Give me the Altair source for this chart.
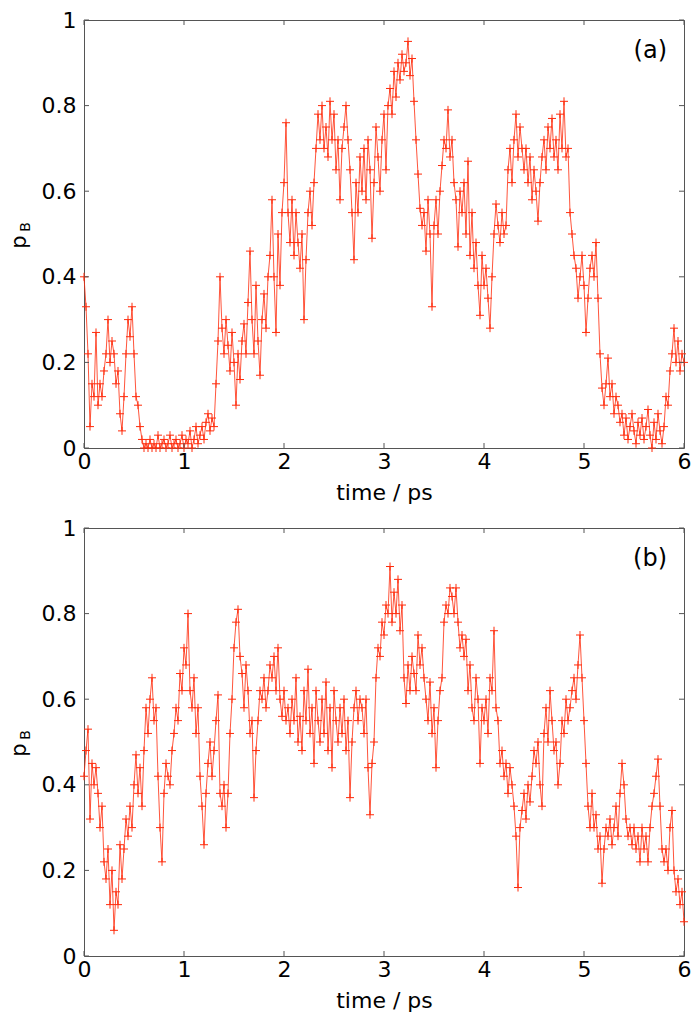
import altair as alt
import pandas as pd

time_ps = [round(i * 0.02, 2) for i in range(301)]

pb_a = [
    0.40, 0.33, 0.22, 0.05, 0.15,  0.12, 0.27, 0.10, 0.15, 0.12,
    0.18, 0.22, 0.30, 0.20, 0.25,  0.22, 0.15, 0.18, 0.08, 0.04,
    0.12, 0.22, 0.30, 0.26, 0.33,  0.22, 0.12, 0.10, 0.05, 0.02,
    0.00, 0.01, 0.00, 0.02, 0.00,  0.01, 0.00, 0.03, 0.00, 0.01,
    0.02, 0.00, 0.01, 0.03, 0.00,  0.01, 0.02, 0.00, 0.01, 0.03,
    0.00, 0.02, 0.01, 0.04, 0.00,  0.02, 0.05, 0.01, 0.03, 0.05,
    0.02, 0.06, 0.08, 0.04, 0.07,  0.05, 0.15, 0.25, 0.40, 0.28,
    0.22, 0.30, 0.24, 0.18, 0.27,  0.20, 0.10, 0.22, 0.16, 0.25,
    0.29, 0.22, 0.34, 0.46, 0.30,  0.22, 0.38, 0.25, 0.17, 0.30,
    0.36, 0.28, 0.40, 0.45, 0.58,  0.40, 0.27, 0.50, 0.38, 0.55,
    0.62, 0.76, 0.55, 0.48, 0.58,  0.45, 0.55, 0.48, 0.42, 0.50,
    0.30, 0.44, 0.55, 0.60, 0.52,  0.62, 0.70, 0.78, 0.72, 0.80,
    0.70, 0.75, 0.68, 0.81, 0.72,  0.78, 0.65, 0.72, 0.58, 0.70,
    0.75, 0.80, 0.72, 0.65, 0.55,  0.44, 0.62, 0.55, 0.68, 0.60,
    0.70, 0.58, 0.72, 0.65, 0.49,  0.62, 0.75, 0.68, 0.60, 0.72,
    0.78, 0.65, 0.80, 0.84, 0.78,  0.88, 0.82, 0.90, 0.86, 0.92,
    0.88, 0.90, 0.95, 0.87, 0.91,  0.81, 0.72, 0.64, 0.56, 0.52,
    0.55, 0.46, 0.58, 0.50, 0.33,  0.52, 0.58, 0.50, 0.60, 0.66,
    0.72, 0.70, 0.79, 0.68, 0.72,  0.62, 0.58, 0.47, 0.60, 0.55,
    0.62, 0.50, 0.67, 0.45, 0.55,  0.42, 0.48, 0.38, 0.31, 0.45,
    0.38, 0.42, 0.35, 0.28, 0.40,  0.50, 0.57, 0.52, 0.48, 0.55,
    0.50, 0.52, 0.65, 0.70, 0.62,  0.72, 0.78, 0.68, 0.75, 0.70,
    0.65, 0.70, 0.62, 0.68, 0.58,  0.65, 0.60, 0.53, 0.62, 0.68,
    0.72, 0.65, 0.75, 0.70, 0.77,  0.68, 0.72, 0.65, 0.78, 0.70,
    0.81, 0.68, 0.70, 0.55, 0.50,  0.45, 0.42, 0.35, 0.40, 0.45,
    0.38, 0.27, 0.35, 0.42, 0.45,  0.40, 0.48, 0.35, 0.22, 0.14,
    0.10, 0.15, 0.21, 0.12, 0.15,  0.08, 0.12, 0.10, 0.06, 0.08,
    0.03, 0.07, 0.02, 0.05, 0.08,  0.04, 0.01, 0.06, 0.03, 0.07,
    0.02, 0.05, 0.09, 0.03, 0.00,  0.06, 0.02, 0.08, 0.04, 0.01,
    0.05, 0.12, 0.10, 0.18, 0.22,  0.28, 0.20, 0.25, 0.18, 0.22,
    0.20,
]

pb_b = [
    0.42, 0.48, 0.53, 0.32, 0.45,  0.40, 0.44, 0.38, 0.30, 0.35,
    0.22, 0.18, 0.25, 0.12, 0.20,  0.06, 0.15, 0.12, 0.26, 0.18,
    0.25, 0.32, 0.28, 0.35, 0.30,  0.40, 0.47, 0.38, 0.44, 0.35,
    0.48, 0.58, 0.52, 0.60, 0.65,  0.55, 0.58, 0.42, 0.30, 0.22,
    0.38, 0.45, 0.42, 0.40, 0.48,  0.52, 0.58, 0.55, 0.66, 0.62,
    0.72, 0.68, 0.80, 0.62, 0.58,  0.65, 0.52, 0.58, 0.42, 0.35,
    0.26, 0.38, 0.45, 0.50, 0.42,  0.48, 0.55, 0.61, 0.38, 0.35,
    0.40, 0.30, 0.38, 0.52, 0.60,  0.72, 0.78, 0.81, 0.70, 0.66,
    0.58, 0.68, 0.62, 0.52, 0.55,  0.37, 0.48, 0.55, 0.62, 0.60,
    0.65, 0.58, 0.62, 0.68, 0.65,  0.70, 0.62, 0.72, 0.60, 0.56,
    0.62, 0.55, 0.58, 0.52, 0.60,  0.55, 0.65, 0.50, 0.56, 0.48,
    0.62, 0.55, 0.67, 0.52, 0.58,  0.45, 0.62, 0.55, 0.50, 0.60,
    0.52, 0.64, 0.48, 0.58, 0.44,  0.62, 0.55, 0.50, 0.58, 0.52,
    0.60, 0.48, 0.55, 0.37, 0.50,  0.58, 0.62, 0.55, 0.60, 0.58,
    0.52, 0.60, 0.44, 0.33, 0.45,  0.50, 0.65, 0.72, 0.70, 0.78,
    0.75, 0.82, 0.80, 0.91, 0.78,  0.85, 0.80, 0.88, 0.76, 0.82,
    0.65, 0.59, 0.68, 0.62, 0.70,  0.66, 0.62, 0.75, 0.68, 0.72,
    0.65, 0.60, 0.55, 0.64, 0.52,  0.58, 0.44, 0.55, 0.62, 0.65,
    0.78, 0.82, 0.80, 0.86, 0.84,  0.80, 0.86, 0.78, 0.72, 0.75,
    0.70, 0.74, 0.62, 0.68, 0.58,  0.55, 0.65, 0.60, 0.45, 0.58,
    0.55, 0.60, 0.52, 0.65, 0.62,  0.76, 0.58, 0.55, 0.45, 0.48,
    0.42, 0.45, 0.38, 0.44, 0.40,  0.35, 0.28, 0.16, 0.30, 0.34,
    0.38, 0.32, 0.40, 0.36, 0.42,  0.48, 0.45, 0.50, 0.40, 0.35,
    0.52, 0.58, 0.50, 0.62, 0.55,  0.48, 0.50, 0.40, 0.45, 0.55,
    0.52, 0.60, 0.55, 0.58, 0.62,  0.65, 0.60, 0.68, 0.75, 0.65,
    0.55, 0.45, 0.35, 0.30, 0.38,  0.30, 0.33, 0.25, 0.28, 0.17,
    0.25, 0.30, 0.28, 0.32, 0.26,  0.30, 0.35, 0.28, 0.38, 0.45,
    0.40, 0.32, 0.28, 0.30, 0.26,  0.30, 0.25, 0.28, 0.22, 0.30,
    0.25, 0.28, 0.22, 0.30, 0.35,  0.38, 0.42, 0.46, 0.35, 0.25,
    0.22, 0.25, 0.20, 0.30, 0.34,  0.20, 0.15, 0.18, 0.12, 0.15,
    0.08,
]

x_ticks = [0, 1, 2, 3, 4, 5, 6]
y_ticks = [0, 0.2, 0.4, 0.6, 0.8, 1]
panel_labels = ["(a)", "(b)"]
y_title_main = "p"
y_title_sub = "B"
x_title = "time / ps"

# ---- style ----
W, H = 600, 428
TICK = 5
RED = "#FF2A0A"
FRAME = "#555555"
FONT = "DejaVu Sans"
CROSS = "M-1,0H1M0,-1V1"


def panel(values, label):
    df = pd.DataFrame({"t": time_ps, "p": values})
    xs = alt.Scale(domain=[0, 6], nice=False, zero=False)
    ys = alt.Scale(domain=[0, 1], nice=False, zero=False)

    line = alt.Chart(df).mark_line(color=RED, strokeWidth=0.8).encode(
        x=alt.X("t:Q", scale=xs, axis=alt.Axis(
            orient="bottom", values=x_ticks, format="d", ticks=False, tickSize=0,
            labelFlush=False, labelPadding=3, title=x_title, titlePadding=10,
            domain=False, grid=False)),
        y=alt.Y("p:Q", scale=ys, axis=alt.Axis(
            orient="left", values=y_ticks, format=".1~f", ticks=False, tickSize=0,
            labelFlush=False, labelPadding=8, title=None, domain=False, grid=False)),
    )
    pts = alt.Chart(df).mark_point(
        shape=CROSS, filled=False, size=64, strokeWidth=1, color=RED, opacity=1
    ).encode(
        x=alt.X("t:Q", scale=xs, axis=None),
        y=alt.Y("p:Q", scale=ys, axis=None),
    )

    # inward tick marks on all four edges, placed through the scales
    xt_df = pd.DataFrame({"v": x_ticks})
    yt_df = pd.DataFrame({"v": y_ticks})
    xtick_bottom = alt.Chart(xt_df).mark_rule(color=FRAME, strokeWidth=1).encode(
        x=alt.X("v:Q", scale=xs, axis=None), y=alt.value(H), y2=alt.value(H - TICK))
    xtick_top = alt.Chart(xt_df).mark_rule(color=FRAME, strokeWidth=1).encode(
        x=alt.X("v:Q", scale=xs, axis=None), y=alt.value(0), y2=alt.value(TICK))
    ytick_left = alt.Chart(yt_df).mark_rule(color=FRAME, strokeWidth=1).encode(
        y=alt.Y("v:Q", scale=ys, axis=None), x=alt.value(0), x2=alt.value(TICK))
    ytick_right = alt.Chart(yt_df).mark_rule(color=FRAME, strokeWidth=1).encode(
        y=alt.Y("v:Q", scale=ys, axis=None), x=alt.value(W - TICK), x2=alt.value(W))

    lab = alt.Chart(pd.DataFrame({"l": [label]})).mark_text(
        align="right", baseline="middle", fontSize=24, font=FONT, color="black"
    ).encode(text="l:N", x=alt.value(W - 17), y=alt.value(31))

    yt_p = alt.Chart(pd.DataFrame({"l": [y_title_main]})).mark_text(
        align="center", baseline="alphabetic", angle=270, fontSize=21, font=FONT, color="black"
    ).encode(text="l:N", x=alt.value(-58), y=alt.value(H / 2 + 8))
    yt_b = alt.Chart(pd.DataFrame({"l": [y_title_sub]})).mark_text(
        align="center", baseline="alphabetic", angle=270, fontSize=14, font=FONT, color="black"
    ).encode(text="l:N", x=alt.value(-54), y=alt.value(H / 2 - 7))

    return alt.layer(
        line, pts, xtick_bottom, xtick_top, ytick_left, ytick_right, lab, yt_p, yt_b
    ).resolve_axis(x="independent", y="independent").properties(width=W, height=H)


chart = alt.vconcat(panel(pb_a, panel_labels[0]), panel(pb_b, panel_labels[1]), spacing=12).configure_view(
    stroke=FRAME, strokeWidth=1
).configure_axis(
    labelFont=FONT, labelFontSize=22, labelColor="black",
    titleFont=FONT, titleFontSize=22, titleFontWeight="normal", titleColor="black",
).properties(padding=0, background="white")

chart.save("out.html", embed_options={"renderer": "svg", "actions": False})
